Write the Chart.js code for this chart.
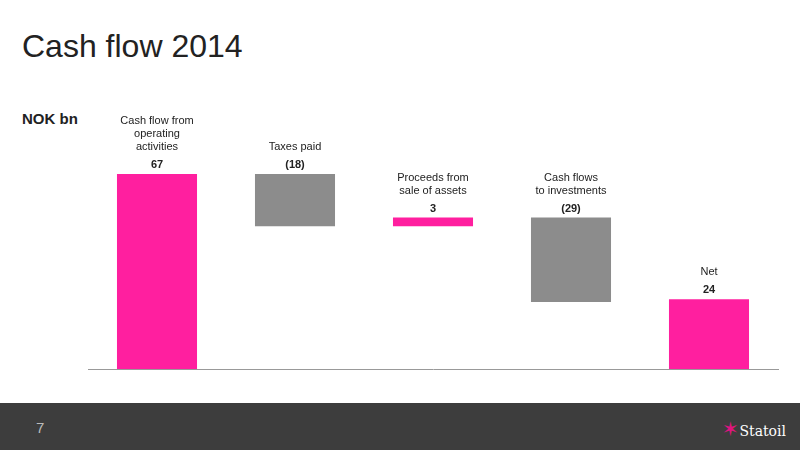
<!DOCTYPE html>
<html>
<head>
<meta charset="utf-8">
<script src="https://cdn.jsdelivr.net/npm/chart.js@4"></script>
<style>
  body { margin: 0; width: 800px; height: 450px; position: relative; background: #fff; font-family: "Liberation Sans", Arial, sans-serif; overflow: hidden; }
  #title { position: absolute; left: 22px; top: 28px; font-size: 32px; color: #222; }
  #unit { position: absolute; left: 22px; top: 110px; font-size: 15px; font-weight: bold; color: #222; }
  #footer { position: absolute; left: 0; top: 403px; width: 800px; height: 47px; background: #3d3d3d; }
  #page { position: absolute; left: 36px; top: 16px; font-size: 15px; color: #bbb; }
  #logo { position: absolute; right: 14px; top: 14px; font-size: 14px; color: #fff; font-family: "DejaVu Serif", serif; }
  #logo span { color: #e0147f; font-size: 20px; }
  #wrap { position: absolute; left: 0; top: 0; width: 800px; height: 403px; }
</style>
</head>
<body>
<div id="title">Cash flow 2014</div>
<div id="unit">NOK bn</div>
<div id="wrap"><canvas id="wfChart" width="800" height="403"></canvas></div>
<div id="footer"><div id="page">7</div><div id="logo"><span>✶</span>Statoil</div></div>
<script>
// Waterfall data
var categories = [
    ["Cash flow from", "operating", "activities"],
    ["Taxes paid"],
    ["Proceeds from", "sale of assets"],
    ["Cash flows", "to investments"],
    ["Net"]
];
var values = [67, -18, 3, -29, 24];
var valueLabels = ["67", "(18)", "3", "(29)", "24"];
var isTotal = [false, false, false, false, true];

var PINK = '#ff1f9f';
var GREY = '#8c8c8c';

// Build floating ranges
var ranges = [];
var running = 0;
values.forEach(function (v, i) {
    if (isTotal[i]) {
        ranges.push([0, v]);
        running = v;
    } else {
        ranges.push([running, running + v]);
        running += v;
    }
});

// Labels above bars
var topLabels = {
    id: 'topLabels',
    afterDatasetsDraw: function (chart) {
        var ctx = chart.ctx;
        var meta = chart.getDatasetMeta(0);
        meta.data.forEach(function (bar, i) {
            var top = Math.min(bar.y, bar.base);
            ctx.save();
            ctx.textAlign = 'center';
            ctx.textBaseline = 'alphabetic';
            ctx.fillStyle = '#222';
            ctx.font = 'bold 11px "Liberation Sans", Arial';
            ctx.fillText(valueLabels[i], bar.x, top - 6);
            ctx.font = '11px "Liberation Sans", Arial';
            var lines = categories[i];
            for (var k = 0; k < lines.length; k++) {
                ctx.fillText(lines[lines.length - 1 - k], bar.x, top - 24 - k * 13);
            }
            ctx.restore();
        });
    }
};

var ctx = document.getElementById('wfChart').getContext('2d');
new Chart(ctx, {
    type: 'bar',
    data: {
        labels: categories.map(function (c) { return c.join(' '); }),
        datasets: [{
            data: ranges,
            backgroundColor: values.map(function (v, i) { return (v >= 0 || isTotal[i]) ? PINK : GREY; }),
            barPercentage: 0.58,
            categoryPercentage: 1.0,
            borderSkipped: false
        }]
    },
    options: {
        responsive: false,
        animation: false,
        layout: { padding: { left: 88, right: 22, top: 100, bottom: 26 } },
        plugins: { legend: { display: false }, tooltip: { enabled: false } },
        scales: {
            x: {
                ticks: { display: false },
                grid: { display: false },
                border: { color: '#999', width: 1 }
            },
            y: { display: false, min: 0, max: 92.4 }
        }
    },
    plugins: [topLabels]
});
</script>
</body>
</html>
